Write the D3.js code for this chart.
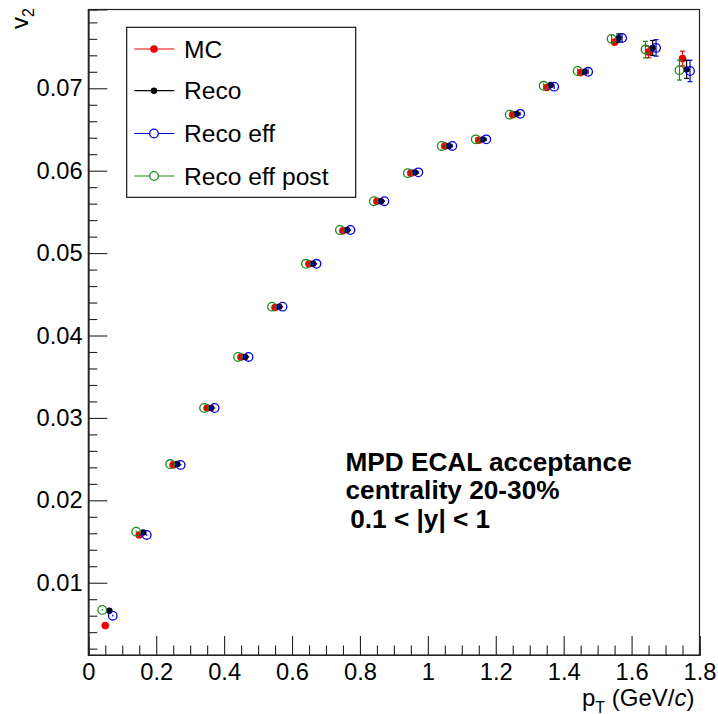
<!DOCTYPE html>
<html>
<head>
<meta charset="utf-8">
<script src="https://cdn.jsdelivr.net/npm/d3@7"></script>
<style>
  html, body { margin: 0; padding: 0; background: #fff; }
  svg { display: block; }
  text { font-family: "Liberation Sans", Arial, Helvetica, sans-serif; }
</style>
</head>
<body>
<svg id="chart" width="718" height="714"></svg>
<script>
// ---------------- data ----------------
const binCenters = [0.05, 0.15, 0.25, 0.35, 0.45, 0.55, 0.65, 0.75, 0.85, 0.95, 1.05, 1.15, 1.25, 1.35, 1.45, 1.55, 1.65, 1.75];

const mcValues        = [0.0048, 0.0158, 0.0243, 0.0312, 0.0374, 0.0434, 0.0487, 0.0527, 0.0563, 0.0597, 0.0630, 0.0637, 0.0668, 0.0701, 0.0719, 0.0756, 0.0744, 0.0736];
const mcErrors        = [0.0001, 0.0001, 0.0001, 0.0001, 0.0001, 0.0001, 0.0001, 0.0001, 0.0001, 0.0001, 0.0002, 0.0002, 0.0002, 0.0002, 0.0003, 0.0004, 0.0007, 0.0009];

const recoValues      = [0.0066, 0.0161, 0.0244, 0.0312, 0.0374, 0.0435, 0.0487, 0.0528, 0.0563, 0.0598, 0.0630, 0.0638, 0.0669, 0.0704, 0.0720, 0.0761, 0.0749, 0.0723];
const recoErrors      = [0.0001, 0.0001, 0.0001, 0.0001, 0.0001, 0.0001, 0.0001, 0.0001, 0.0001, 0.0002, 0.0002, 0.0002, 0.0002, 0.0003, 0.0003, 0.0005, 0.0009, 0.0011];

const recoEffValues   = [0.0060, 0.0158, 0.0243, 0.0312, 0.0374, 0.0435, 0.0487, 0.0528, 0.0563, 0.0598, 0.0630, 0.0638, 0.0669, 0.0702, 0.0720, 0.0761, 0.0749, 0.0721];
const recoEffErrors   = [0.0001, 0.0001, 0.0001, 0.0001, 0.0001, 0.0001, 0.0001, 0.0001, 0.0001, 0.0002, 0.0002, 0.0002, 0.0002, 0.0003, 0.0003, 0.0005, 0.0010, 0.0013];

const recoPostValues  = [0.0067, 0.0162, 0.0244, 0.0312, 0.0374, 0.0435, 0.0487, 0.0528, 0.0563, 0.0597, 0.0630, 0.0638, 0.0668, 0.0703, 0.0721, 0.0760, 0.0747, 0.0722];
const recoPostErrors  = [0.0001, 0.0001, 0.0001, 0.0001, 0.0001, 0.0001, 0.0001, 0.0001, 0.0001, 0.0002, 0.0002, 0.0002, 0.0002, 0.0003, 0.0003, 0.0005, 0.0010, 0.0012];

const seriesNames   = ["MC", "Reco", "Reco eff", "Reco eff post"];
const seriesShift   = [0.0, 0.012, 0.022, -0.009];   // x offset of each series (GeV/c)

const xTickValues = [0, 0.2, 0.4, 0.6, 0.8, 1, 1.2, 1.4, 1.6, 1.8];
const yTickValues = [0.01, 0.02, 0.03, 0.04, 0.05, 0.06, 0.07];

const xTitle = "p";
const xTitleSub = "T";
const yTitle = "v";
const yTitleSub = "2";
const infoLines = ["MPD ECAL acceptance", "centrality 20-30%", " 0.1 < |y| < 1"];

// ---------------- styles ----------------
const styles = [
  { color: "#ee0000", filled: true,  r: 3.8 },
  { color: "#000000", filled: true,  r: 3.2 },
  { color: "#0000dd", filled: false, r: 4.3 },
  { color: "#1a8a1a", filled: false, r: 4.3 }
];
const seriesValues = [mcValues, recoValues, recoEffValues, recoPostValues];
const seriesErrors = [mcErrors, recoErrors, recoEffErrors, recoPostErrors];

// ---------------- layout ----------------
const svg = d3.select("#chart");
const L = 88.3, R = 699.5, T = 9.5, B = 655;
const x = d3.scaleLinear().domain([0, 1.8]).range([L, R]);
const y = d3.scaleLinear().domain([0.00123, 0.07956]).range([B, T]);

svg.append("rect").attr("width", 718).attr("height", 714).attr("fill", "#fff");

// frame
svg.append("rect")
  .attr("x", L).attr("y", T).attr("width", R - L).attr("height", B - T)
  .attr("fill", "none").attr("stroke", "#222").attr("stroke-width", 1.2);

const fontSize = 23.7;

// X axis major
svg.append("g").attr("transform", `translate(0,${B})`)
  .call(d3.axisBottom(x).tickValues(xTickValues).tickSize(-19).tickPadding(8.3)
    .tickFormat(d => d === 0 ? "0" : String(+d.toFixed(1))));
// X axis minor
const xMinor = d3.range(0, 36).map(i => i * 0.05).filter(v => Math.abs(v / 0.2 - Math.round(v / 0.2)) > 1e-6);
svg.append("g").attr("transform", `translate(0,${B})`)
  .call(d3.axisBottom(x).tickValues(xMinor).tickSize(-9.5).tickFormat(""));

// Y axis major
svg.append("g").attr("transform", `translate(${L},0)`)
  .call(d3.axisLeft(y).tickValues(yTickValues).tickSize(-19).tickPadding(5.6)
    .tickFormat(d3.format(".2f")));
// Y axis minor
const yMinor = d3.range(1, 40).map(i => +(i * 0.002).toFixed(3)).filter(v => Math.abs(v / 0.01 - Math.round(v / 0.01)) > 1e-6 && v > 0.00123 && v < 0.07956);
svg.append("g").attr("transform", `translate(${L},0)`)
  .call(d3.axisLeft(y).tickValues(yMinor).tickSize(-9).tickFormat(""));

svg.selectAll(".domain").attr("stroke", "#222").attr("stroke-width", 1.2);
svg.selectAll(".tick line").attr("stroke", "#222").attr("stroke-width", 1.1);
svg.selectAll(".tick text").attr("font-size", fontSize).attr("fill", "#000")
  .attr("font-family", "'Liberation Sans', Arial, sans-serif");

// axis titles
const xt = svg.append("text").attr("x", 582).attr("y", 705.5)
  .attr("font-size", 24).attr("fill", "#000");
xt.append("tspan").text(xTitle);
xt.append("tspan").attr("font-size", 16).attr("dy", 7).text(xTitleSub);
xt.append("tspan").attr("dy", -7).text(" (GeV/");
xt.append("tspan").attr("font-style", "italic").text("c");
xt.append("tspan").text(")");

const yt = svg.append("text")
  .attr("transform", "translate(28,8) rotate(-90)")
  .attr("text-anchor", "end").attr("font-size", 24).attr("fill", "#000");
yt.append("tspan").text(yTitle);
yt.append("tspan").attr("font-size", 16).attr("dy", 6).text(yTitleSub);

// ---------------- data marks ----------------
const plot = svg.append("g");
seriesNames.forEach((name, s) => {
  const st = styles[s];
  const pts = binCenters.map((c, i) => ({ px: c + seriesShift[s], v: seriesValues[s][i], e: seriesErrors[s][i] }));
  const g = plot.append("g").attr("class", "series-" + s);
  // error bars
  const eb = g.selectAll("g.err").data(pts).join("g").attr("class", "err");
  eb.append("line")
    .attr("x1", d => x(d.px)).attr("x2", d => x(d.px))
    .attr("y1", d => y(d.v + d.e)).attr("y2", d => y(d.v - d.e))
    .attr("stroke", st.color).attr("stroke-width", 1.2);
  eb.filter(d => y(d.v - d.e) - y(d.v + d.e) > 2 * st.r + 1).each(function (d) {
    const gg = d3.select(this);
    [d.v + d.e, d.v - d.e].forEach(v => {
      gg.append("line").attr("x1", x(d.px) - 2.5).attr("x2", x(d.px) + 2.5)
        .attr("y1", y(v)).attr("y2", y(v))
        .attr("stroke", st.color).attr("stroke-width", 1.2);
    });
  });
  g.selectAll("circle").data(pts).join("circle")
    .attr("cx", d => x(d.px)).attr("cy", d => y(d.v)).attr("r", st.r)
    .attr("fill", st.filled ? st.color : "none")
    .attr("stroke", st.color).attr("stroke-width", st.filled ? 0 : 1.3);
});

// ---------------- legend ----------------
const lg = svg.append("g");
lg.append("rect").attr("x", 126.7).attr("y", 27.3).attr("width", 229).attr("height", 170)
  .attr("fill", "#fff").attr("stroke", "#000").attr("stroke-width", 1.1);
const legendY = [49, 90.7, 133.5, 176];
seriesNames.forEach((name, s) => {
  const st = styles[s];
  const yy = legendY[s];
  lg.append("line").attr("x1", 134.3).attr("x2", 174.3).attr("y1", yy).attr("y2", yy)
    .attr("stroke", st.color).attr("stroke-width", 1.2);
  lg.append("circle").attr("cx", 154).attr("cy", yy).attr("r", st.r)
    .attr("fill", st.filled ? st.color : "#fff")
    .attr("stroke", st.color).attr("stroke-width", st.filled ? 0 : 1.3);
  lg.append("text").attr("x", 184).attr("y", yy + 8.5).attr("font-size", 24.6)
    .attr("fill", "#000").text(name);
});

// ---------------- info text ----------------
const infoY = [470.7, 498.5, 527.5];
infoLines.forEach((t, i) => {
  svg.append("text").attr("x", i === 2 ? 343 : 345.5).attr("y", infoY[i])
    .attr("font-size", 26.2).attr("font-weight", "bold").attr("fill", "#000")
    .style("white-space", "pre").attr("xml:space", "preserve").text(t);
});
</script>
</body>
</html>
